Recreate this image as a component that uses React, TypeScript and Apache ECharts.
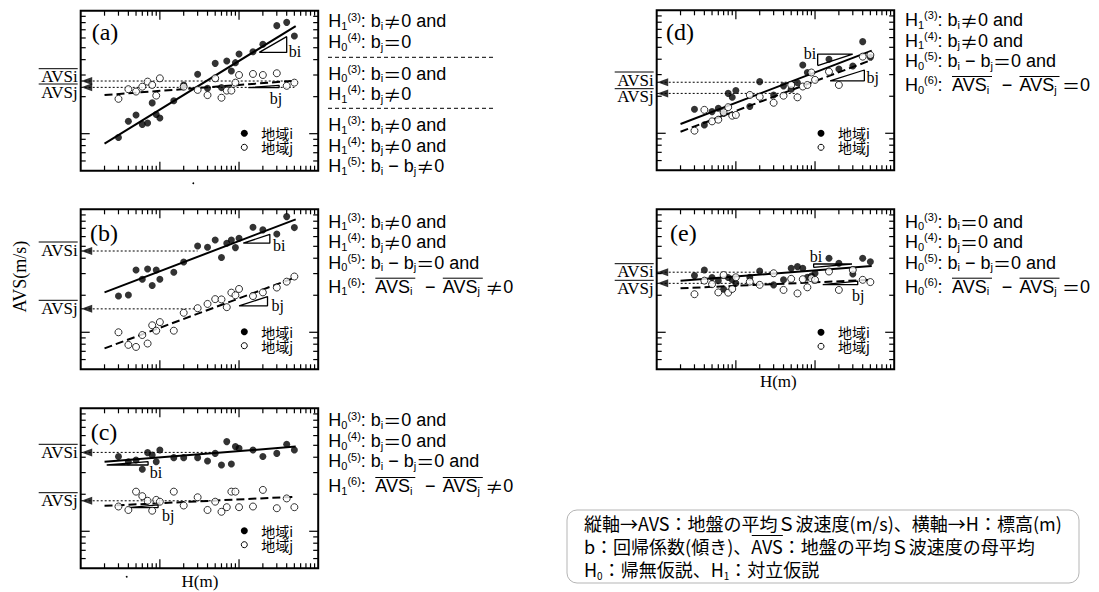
import { useEffect, useRef } from "react";
import * as echarts from "echarts";

// ---------- shared axis values ----------
// Elevation H (m) of the plotted samples (same H positions in every panel)
const H_M = [3, 4, 5, 6, 7, 8, 9, 10, 15, 20, 30, 40, 50, 60, 70, 80, 90, 100, 150, 200, 300, 400, 500];
// H range spanned by the regression lines
const FIT_H = [2, 520];
const X_MIN = 1;
const X_MAX = 1000;
const Y_MIN = 50;
const Y_MAX = 1000;
const X_MINOR_TICKS = [2, 3, 4, 5, 6, 7, 8, 9, 20, 30, 40, 50, 60, 70, 80, 90, 200, 300, 400, 500, 600, 700, 800, 900];
const X_MAJOR_TICKS = [10, 100];
const Y_MINOR_TICKS = [60, 70, 80, 90, 200, 300, 400, 500, 600, 700, 800, 900];
const Y_MAJOR_TICKS = [100];

// ---------- panel (a) ----------
const A_AVS_I = [93, 126, 142, 119, 122, 178, 143, 134, 185, 249, 304, 234, 373, 237, 390, 323, 378, 444, 464, 533, 756, 804, 623];
const A_AVS_J = [192, 230, 220, 241, 265, 249, 204, 282, null, 241, 227, 206, 282, 196, 224, 224, 260, 300, 306, 300, 310, 245, 260];
const A_FIT_I = [83, 750];
const A_FIT_J = [206, 270];
const A_MEAN = [268, 238];
const A_MEAN_END_H = 500;
const A_SLOPE_I = [[180, 458], [400, 615], [400, 458]];
const A_SLOPE_J = [[131, 237], [321, 247], [321, 237]];

// ---------- panel (b) ----------
const B_AVS_I = [197, 201, 321, 270, 327, 240, 321, 270, 308, 373, 503, 491, 563, 406, 530, 563, 488, 581, 714, 680, 630, 872, 710];
const B_AVS_J = [100, 79, 76, 95, 81, 114, 103, 121, 103, 144, 157, 170, 186, 185, 160, 210, 200, 225, 197, 211, 231, 258, 284];
const B_FIT_I = [211, 829];
const B_FIT_J = [74, 280];
const B_MEAN = [458, 155];
const B_MEAN_END_H = 30;
const B_SLOPE_I = [[113, 530], [245, 626], [245, 530]];
const B_SLOPE_J = [[100, 164], [229, 195], [229, 164]];

// ---------- panel (c) ----------
const C_AVS_I = [405, 368, 380, 319, 436, 417, 368, 458, 397, 397, 397, 373, 430, 346, 536, 353, 488, 473, 458, 405, 430, 510, 458];
const C_AVS_J = [159, 149, 210, 193, 177, 147, 180, 174, 210, 162, 189, 149, 174, 144, 157, 210, 210, 157, 159, 217, 154, 185, 157];
const C_FIT_I = [368, 488];
const C_FIT_J = [161, 191];
const C_MEAN = [438, 177];
const C_MEAN_END_H = 50;
const C_SLOPE_I = [[2.13, 346], [7.1, 368], [7.1, 346]];
const C_SLOPE_J = [[4, 156], [9.5, 164], [9.5, 156]];

// ---------- panel (d) ----------
const D_AVS_I = [157, 117, 150, 160, 145, 211, 196, 223, 165, 263, 205, 243, 228, 258, 359, 312, null, null, 400, 333, 353, 556, 415];
const D_AVS_J = [105, 155, 125, 129, 148, 163, 139, 141, 205, 198, 177, 202, 247, 196, 240, 247, 312, 272, 317, 247, null, 420, 433];
const D_FIT_I = [119, 470];
const D_FIT_J = [103, 395];
const D_MEAN = [260, 211];
const D_MEAN_END_H = 60;
const D_SLOPE_I = [[108, 355], [299, 441], [108, 441]];
const D_SLOPE_J = [[155, 267], [420, 327], [420, 267]];

// ---------- panel (e) ----------
const E_AVS_I = [289, 321, 279, 263, 224, 279, 267, 250, 280, 315, 243, 267, 331, 342, 331, 280, 287, 302, 400, 364, 298, 400, 375];
const E_AVS_J = [204, 263, 246, 211, 292, 210, 225, 280, 258, 243, 302, 221, 272, 207, 270, 232, 275, 267, 312, 221, 321, 267, 256];
const E_FIT_I = [263, 346];
const E_FIT_J = [228, 267];
const E_MEAN = [308, 250];
const E_MEAN_END_H = 30;
const E_SLOPE_I = [[96, 337], [293, 359], [96, 359]];
const E_SLOPE_J = [[125, 244], [346, 261], [346, 244]];

// ---------- fonts ----------
const SERIF = "'Liberation Serif', 'Times New Roman', serif";
const SANS = "'Liberation Sans', Arial, sans-serif";
const CJK = "'Noto Sans CJK JP', sans-serif";

// ---------- panel layout (pixels) ----------
const GRID_W = 237.5;
const GRID_H = 160;

const PANELS = [
  { tag: "(a)", left: 80.7, top: 10.7, avsI: A_AVS_I, avsJ: A_AVS_J, fitI: A_FIT_I, fitJ: A_FIT_J, mean: A_MEAN, meanEnd: A_MEAN_END_H, slopeI: A_SLOPE_I, slopeJ: A_SLOPE_J,
    tagXY: [105, 31.7], meanLabelY: [76.7, 92], biXY: [295, 51.7], bjXY: [276, 98.3], legendXY: [244.3, 133.3] },
  { tag: "(b)", left: 80.7, top: 209.3, avsI: B_AVS_I, avsJ: B_AVS_J, fitI: B_FIT_I, fitJ: B_FIT_J, mean: B_MEAN, meanEnd: B_MEAN_END_H, slopeI: B_SLOPE_I, slopeJ: B_SLOPE_J,
    tagXY: [104, 233.3], meanLabelY: [250, 308.3], biXY: [279.3, 245], bjXY: [277.7, 305], legendXY: [244.3, 331.7] },
  { tag: "(c)", left: 80.7, top: 408.3, avsI: C_AVS_I, avsJ: C_AVS_J, fitI: C_FIT_I, fitJ: C_FIT_J, mean: C_MEAN, meanEnd: C_MEAN_END_H, slopeI: C_SLOPE_I, slopeJ: C_SLOPE_J,
    tagXY: [104, 431.7], meanLabelY: [452.3, 500.7], biXY: [156, 472.7], bjXY: [168.3, 515], legendXY: [244.3, 530.7] },
  { tag: "(d)", left: 656.7, top: 10.3, avsI: D_AVS_I, avsJ: D_AVS_J, fitI: D_FIT_I, fitJ: D_FIT_J, mean: D_MEAN, meanEnd: D_MEAN_END_H, slopeI: D_SLOPE_I, slopeJ: D_SLOPE_J,
    tagXY: [680, 31.7], meanLabelY: [80, 96.7], biXY: [810, 53.3], bjXY: [872.7, 77.3], legendXY: [821, 133.3] },
  { tag: "(e)", left: 656.7, top: 209.3, avsI: E_AVS_I, avsJ: E_AVS_J, fitI: E_FIT_I, fitJ: E_FIT_J, mean: E_MEAN, meanEnd: E_MEAN_END_H, slopeI: E_SLOPE_I, slopeJ: E_SLOPE_J,
    tagXY: [683.3, 233.3], meanLabelY: [271.7, 288.3], biXY: [816, 256.7], bjXY: [858.3, 295], legendXY: [821, 332.3] },
];

// ---------- hypothesis texts ----------
const LINE_H = 20.5;
const RICH: any = {
  b: { fontFamily: SANS, fontSize: 18, lineHeight: LINE_H, fill: "#000" },
  s: { fontFamily: SANS, fontSize: 11, verticalAlign: "bottom", fill: "#000" },
  p: { fontFamily: SANS, fontSize: 11, verticalAlign: "top", fill: "#000" },
  e: { fontFamily: CJK, fontSize: 18, lineHeight: LINE_H, fill: "#000" },
};
const HYP = (k: string, n: string) => `{b|H}{s|${k}}{p|(${n})}{b|: }`;
const BI = "{b|b}{s|i}";
const BJ = "{b|b}{s|j}";
const NE = "{e|≠}";
const EQ = "{e|＝}";
const DIFF = `${BI}{b| − }${BJ}`;

// block (a): three groups separated by dashed rules
const BLOCK_A_GROUPS = [
  { y: 31.7, rows: [HYP("1", "3") + BI + NE + "{b|0 and}", HYP("0", "4") + BJ + EQ + "{b|0}"] },
  { y: 83.8, rows: [HYP("0", "3") + BI + EQ + "{b|0 and}", HYP("1", "4") + BJ + NE + "{b|0}"] },
  { y: 145.5, rows: [HYP("1", "3") + BI + NE + "{b|0 and}", HYP("1", "4") + BJ + NE + "{b|0 and}", HYP("1", "5") + DIFF + NE + "{b|0}"] },
];
const BLOCK_A_SEP_Y = [57.3, 108.3];

// blocks (b)-(e): three rows, then the AVS row
const BLOCKS = [
  { x: 328.3, y: 242, y4: 286.7, rows: [HYP("1", "3") + BI + NE + "{b|0 and}", HYP("1", "4") + BJ + NE + "{b|0 and}", HYP("0", "5") + DIFF + EQ + "{b|0 and}"], h6: "1" },
  { x: 328.3, y: 440.8, y4: 486, rows: [HYP("0", "3") + BI + EQ + "{b|0 and}", HYP("0", "4") + BJ + EQ + "{b|0 and}", HYP("0", "5") + DIFF + EQ + "{b|0 and}"], h6: "1" },
  { x: 905, y: 40.5, y4: 85, rows: [HYP("1", "3") + BI + NE + "{b|0 and}", HYP("1", "4") + BJ + NE + "{b|0 and}", HYP("0", "5") + DIFF + EQ + "{b|0 and}"], h6: "0" },
  { x: 905, y: 242, y4: 286.7, rows: [HYP("0", "3") + BI + EQ + "{b|0 and}", HYP("0", "4") + BJ + EQ + "{b|0 and}", HYP("0", "5") + DIFF + EQ + "{b|0 and}"], h6: "0" },
];

// ---------- note box ----------
const NOTE_ROW1 = "縦軸→AVS：地盤の平均Ｓ波速度(m/s)、横軸→H：標高(m)";
const NOTE_ROW2_PRE = "b：回帰係数(傾き)、";
const NOTE_ROW2_AVS = "AVS";
const NOTE_ROW2_POST = "：地盤の平均Ｓ波速度の母平均";
const NOTE_ROW3 = ["H", "0", "：帰無仮説、H", "1", "：対立仮説"];

const TICK_DATA = [
  ...X_MINOR_TICKS.map((v) => [v, v, 0, 0]),
  ...X_MAJOR_TICKS.map((v) => [v, v, 0, 1]),
  ...Y_MINOR_TICKS.map((v) => [v, v, 1, 0]),
  ...Y_MAJOR_TICKS.map((v) => [v, v, 1, 1]),
];

const renderTicks = (_params: any, api: any) => {
  const v = api.value(0);
  const isY = api.value(2) === 1;
  const len = api.value(3) === 1 ? 9 : 5;
  const st = { stroke: "#000", lineWidth: 1.2 };
  if (!isY) {
    const b = api.coord([v, Y_MIN]);
    const t = api.coord([v, Y_MAX]);
    return {
      type: "group",
      children: [
        { type: "line", shape: { x1: b[0], y1: b[1], x2: b[0], y2: b[1] - len }, style: st },
        { type: "line", shape: { x1: t[0], y1: t[1], x2: t[0], y2: t[1] + len }, style: st },
      ],
    };
  }
  const l = api.coord([X_MIN, v]);
  const r = api.coord([X_MAX, v]);
  return {
    type: "group",
    children: [
      { type: "line", shape: { x1: l[0], y1: l[1], x2: l[0] + len, y2: l[1] }, style: st },
      { type: "line", shape: { x1: r[0], y1: r[1], x2: r[0] - len, y2: r[1] }, style: st },
    ],
  };
};

function textWidth(text: string, fontFamily: string, fontSize: number) {
  const t = new (echarts.graphic as any).Text({ style: { text, fontFamily, fontSize } });
  return t.getBoundingRect().width;
}

function buildOption() {
  const grid: any[] = [];
  const xAxis: any[] = [];
  const yAxis: any[] = [];
  const series: any[] = [];
  const graphic: any[] = [];
  const hidden = { axisLine: { show: false }, axisTick: { show: false }, axisLabel: { show: false }, splitLine: { show: false } };

  PANELS.forEach((p, k) => {
    grid.push({ left: p.left, top: p.top, width: GRID_W, height: GRID_H, show: true, borderColor: "#000", borderWidth: 2, backgroundColor: "transparent" });
    xAxis.push({ type: "log", logBase: 10, min: X_MIN, max: X_MAX, gridIndex: k, ...hidden });
    yAxis.push({ type: "log", logBase: 10, min: Y_MIN, max: Y_MAX, gridIndex: k, ...hidden });
    const ax = { xAxisIndex: k, yAxisIndex: k };

    series.push({ type: "custom", ...ax, dimensions: ["x", "y", "axis", "major"], encode: { x: 0, y: 1 }, data: TICK_DATA, renderItem: renderTicks, silent: true, z: 5 });
    series.push({ type: "line", ...ax, data: FIT_H.map((h, i) => [h, p.fitI[i]]), symbol: "none", lineStyle: { color: "#000", width: 2 }, z: 3 });
    series.push({ type: "line", ...ax, data: FIT_H.map((h, i) => [h, p.fitJ[i]]), symbol: "none", lineStyle: { color: "#000", width: 2, type: [8, 4] }, z: 3 });
    p.mean.forEach((m) => {
      series.push({ type: "line", ...ax, data: [[X_MIN, m], [p.meanEnd, m]], symbol: "none", lineStyle: { color: "#000", width: 1, type: [2, 2] }, z: 2 });
    });
    series.push({ type: "scatter", ...ax, clip: false, data: p.mean.map((m) => [X_MIN, m]), symbol: "triangle", symbolSize: [8, 11], symbolRotate: 90, symbolOffset: [6, 0], itemStyle: { color: "#000" }, z: 4 });
    [p.slopeI, p.slopeJ].forEach((tri) => {
      series.push({ type: "line", ...ax, data: [...tri, tri[0]], symbol: "none", lineStyle: { color: "#000", width: 1.3 }, z: 3 });
    });
    series.push({ type: "scatter", ...ax, data: H_M.map((h, i) => [h, p.avsI[i]]).filter((d) => d[1] != null), symbol: "circle", symbolSize: 7, itemStyle: { color: "#000" }, z: 6 });
    series.push({ type: "scatter", ...ax, data: H_M.map((h, i) => [h, p.avsJ[i]]).filter((d) => d[1] != null), symbol: "circle", symbolSize: 7, itemStyle: { color: "#fff", borderColor: "#000", borderWidth: 1 }, z: 6 });

    // panel tag
    graphic.push({ type: "text", x: p.tagXY[0], y: p.tagXY[1], style: { text: p.tag, fontFamily: SERIF, fontSize: 24, fill: "#000", align: "center", verticalAlign: "middle" } });
    // mean labels with overline
    const right = p.left - 3;
    const [yi, yj] = p.meanLabelY;
    if (yj - yi < 22) {
      graphic.push({ type: "text", x: right, y: (yi + yj) / 2, style: { text: "AVSi\nAVSj", fontFamily: SERIF, fontSize: 17, lineHeight: yj - yi, fill: "#000", align: "right", verticalAlign: "middle" } });
    } else {
      graphic.push({ type: "text", x: right, y: yi, style: { text: "AVSi", fontFamily: SERIF, fontSize: 17, fill: "#000", align: "right", verticalAlign: "middle" } });
      graphic.push({ type: "text", x: right, y: yj, style: { text: "AVSj", fontFamily: SERIF, fontSize: 17, fill: "#000", align: "right", verticalAlign: "middle" } });
    }
    [yi, yj].forEach((y) => {
      graphic.push({ type: "line", shape: { x1: right - 39, y1: y - 8, x2: right, y2: y - 8 }, style: { stroke: "#000", lineWidth: 1 } });
    });
    // slope labels
    graphic.push({ type: "text", x: p.biXY[0], y: p.biXY[1], style: { text: "bi", fontFamily: SERIF, fontSize: 16, fill: "#000", align: "center", verticalAlign: "middle" } });
    graphic.push({ type: "text", x: p.bjXY[0], y: p.bjXY[1], style: { text: "bj", fontFamily: SERIF, fontSize: 16, fill: "#000", align: "center", verticalAlign: "middle" } });
    // legend
    const [lx, ly] = p.legendXY;
    graphic.push({ type: "circle", shape: { cx: lx, cy: ly, r: 3.5 }, style: { fill: "#000" } });
    graphic.push({ type: "circle", shape: { cx: lx, cy: ly + 14, r: 3 }, style: { fill: "#fff", stroke: "#000", lineWidth: 1 } });
    graphic.push({ type: "text", x: lx + 17, y: ly + 7, style: { text: "地域i\n地域j", fontFamily: CJK, fontSize: 14, lineHeight: 14, fill: "#000", verticalAlign: "middle" } });
  });

  // axis titles
  graphic.push({ type: "text", x: 20, y: 276.7, rotation: Math.PI / 2, style: { text: "AVS(m/s)", fontFamily: SERIF, fontSize: 18, fill: "#000", align: "center", verticalAlign: "middle" } });
  graphic.push({ type: "text", x: 200, y: 581.7, style: { text: "H(m)", fontFamily: SERIF, fontSize: 17, fill: "#000", align: "center", verticalAlign: "middle" } });
  graphic.push({ type: "text", x: 778.3, y: 381.7, style: { text: "H(m)", fontFamily: SERIF, fontSize: 17, fill: "#000", align: "center", verticalAlign: "middle" } });
  graphic.push({ type: "circle", shape: { cx: 193.3, cy: 183.3, r: 0.9 }, style: { fill: "#000" } });
  graphic.push({ type: "circle", shape: { cx: 126.7, cy: 576.7, r: 0.9 }, style: { fill: "#000" } });

  // hypothesis block (a)
  BLOCK_A_GROUPS.forEach((g) => {
    graphic.push({ type: "text", x: 328.3, y: g.y, style: { text: g.rows.join("\n"), rich: RICH, lineHeight: LINE_H, align: "left", verticalAlign: "middle" } });
  });
  BLOCK_A_SEP_Y.forEach((y) => {
    graphic.push({ type: "line", shape: { x1: 328, y1: y, x2: 493, y2: y }, style: { stroke: "#000", lineWidth: 1, lineDash: [4, 3] } });
  });
  // hypothesis blocks (b)-(e)
  BLOCKS.forEach((blk) => {
    graphic.push({ type: "text", x: blk.x, y: blk.y, style: { text: blk.rows.join("\n"), rich: RICH, lineHeight: LINE_H, align: "left", verticalAlign: "middle" } });
    const y4 = blk.y4;
    const x0 = blk.x;
    graphic.push({ type: "text", x: x0, y: y4, style: { text: HYP(blk.h6, "6"), rich: RICH, align: "left", verticalAlign: "middle" } });
    graphic.push({ type: "text", x: x0 + 47, y: y4, style: { text: "{b|AVS}{s|i}", rich: RICH, align: "left", verticalAlign: "middle" } });
    graphic.push({ type: "text", x: x0 + 102, y: y4, style: { text: "{b|−}", rich: RICH, align: "center", verticalAlign: "middle" } });
    graphic.push({ type: "text", x: x0 + 114.5, y: y4, style: { text: "{b|AVS}{s|j}", rich: RICH, align: "left", verticalAlign: "middle" } });
    graphic.push({ type: "text", x: x0 + 157, y: y4, style: { text: (blk.h6 === "1" ? NE : EQ) + "{b|0}", rich: RICH, align: "left", verticalAlign: "middle" } });
    graphic.push({ type: "line", shape: { x1: x0 + 47, y1: y4 - 8.5, x2: x0 + 87, y2: y4 - 8.5 }, style: { stroke: "#000", lineWidth: 1 } });
    graphic.push({ type: "line", shape: { x1: x0 + 114.5, y1: y4 - 8.5, x2: x0 + 154.5, y2: y4 - 8.5 }, style: { stroke: "#000", lineWidth: 1 } });
  });

  // note box
  const NOTE_X = 584;
  const NOTE_FS = 18;
  graphic.push({ type: "rect", shape: { x: 567, y: 510, width: 512, height: 73, r: 10 }, style: { fill: "#fff", stroke: "#b5b5b5", lineWidth: 1 } });
  const noteText =
    `{c|${NOTE_ROW1}}\n{c|${NOTE_ROW2_PRE}${NOTE_ROW2_AVS}${NOTE_ROW2_POST}}\n` +
    `{c|${NOTE_ROW3[0]}}{cs|${NOTE_ROW3[1]}}{c|${NOTE_ROW3[2]}}{cs|${NOTE_ROW3[3]}}{c|${NOTE_ROW3[4]}}`;
  graphic.push({
    type: "text", x: NOTE_X, y: 546,
    style: {
      text: noteText, verticalAlign: "middle", align: "left", lineHeight: 23,
      rich: {
        c: { fontFamily: CJK, fontSize: NOTE_FS, lineHeight: 23, fill: "#000" },
        cs: { fontFamily: CJK, fontSize: 10, verticalAlign: "bottom", fill: "#000" },
      },
    },
  });
  const avsX = NOTE_X + textWidth(NOTE_ROW2_PRE, CJK, NOTE_FS);
  const avsW = textWidth(NOTE_ROW2_AVS, CJK, NOTE_FS);
  graphic.push({ type: "line", shape: { x1: avsX + 0.5, y1: 535.5, x2: avsX + avsW, y2: 535.5 }, style: { stroke: "#000", lineWidth: 1 } });

  return { animation: false, backgroundColor: "#fff", grid, xAxis, yAxis, series, graphic };
}

export default function App() {
  const ref = useRef<HTMLDivElement>(null);
  useEffect(() => {
    if (!ref.current) return;
    const chart = echarts.init(ref.current, undefined, { renderer: "svg" });
    chart.setOption(buildOption() as any);
    return () => chart.dispose();
  }, []);
  return <div ref={ref} style={{ position: "fixed", left: 0, top: 0, width: 1099, height: 592, background: "#fff" }} />;
}
